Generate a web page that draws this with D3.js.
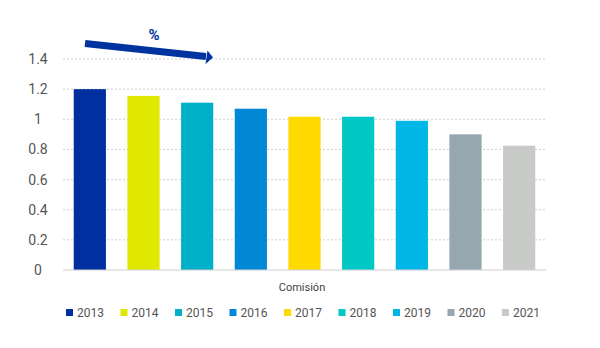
<!DOCTYPE html>
<html lang="es">

<head>
    <meta charset="UTF-8">
    <title>Comisión</title>
    <script src="https://d3js.org/d3.v7.min.js"></script>
    <style>
        body {
            margin: 0;
            background: #fff;
        }

        text {
            font-family: Roboto, sans-serif;
        }

        .grid line {
            stroke: #d0d0d0;
            stroke-dasharray: 2, 2;
        }
    </style>
</head>

<body>
    <script>
        const years = ["2013", "2014", "2015", "2016", "2017", "2018", "2019", "2020", "2021"]
        const values = [1.2, 1.155, 1.11, 1.07, 1.017, 1.017, 0.99, 0.9, 0.825]
        const colors = ["#0030a0", "#e0e800", "#00afc8", "#0088d6", "#ffda00", "#00c8c5", "#00b6e6", "#96a7b0", "#c8cac8"]
        const yTicks = [0, 0.2, 0.4, 0.6, 0.8, 1, 1.2, 1.4]

        const width = 600
        const height = 348

        let svg = d3.select("body").append("svg")
            .attr("width", width)
            .attr("height", height)

        let x = d3.scaleBand()
            .domain(years)
            .range([63, 546])
            .paddingInner(0.4)
            .paddingOuter(0.2)

        let y = d3.scaleLinear()
            .domain([0, 1.4])
            .range([270, 59])

        // dotted gridlines (not at zero)
        svg.append("g").attr("class", "grid")
            .selectAll("line")
            .data(yTicks.filter(d => d > 0))
            .enter()
            .append("line")
            .attr("x1", 63).attr("x2", 546)
            .attr("y1", d => y(d)).attr("y2", d => y(d))

        // y labels, centered
        svg.append("g")
            .selectAll("text")
            .data(yTicks)
            .enter()
            .append("text")
            .attr("x", 38)
            .attr("y", d => y(d))
            .attr("dy", "0.36em")
            .attr("text-anchor", "middle")
            .attr("fill", "#555")
            .style("font-size", "14px")
            .text(d => String(+d.toFixed(1)))

        // bars
        svg.append("g")
            .selectAll("rect")
            .data(values)
            .enter()
            .append("rect")
            .attr("x", (d, i) => x(years[i]))
            .attr("width", x.bandwidth())
            .attr("y", d => y(d))
            .attr("height", d => y(0) - y(d))
            .attr("fill", (d, i) => colors[i])

        // baseline
        svg.append("line")
            .attr("x1", 63).attr("x2", 546)
            .attr("y1", y(0)).attr("y2", y(0))
            .attr("stroke", "#cfcfcf")
            .attr("stroke-width", 1)

        svg.append("text")
            .attr("x", 302)
            .attr("y", 291)
            .attr("text-anchor", "middle")
            .attr("fill", "#444")
            .style("font-size", "11px")
            .text("Comisión")

        // trend arrow + %
        svg.append("line")
            .attr("x1", 85).attr("y1", 43.5)
            .attr("x2", 206).attr("y2", 56.5)
            .attr("stroke", "#0033a0")
            .attr("stroke-width", 7)

        svg.append("path")
            .attr("d", "M213,57.5 L207.5,50.5 L205.5,64 Z")
            .attr("fill", "#0033a0")

        svg.append("text")
            .attr("x", 154)
            .attr("y", 40)
            .attr("text-anchor", "middle")
            .attr("fill", "#0033a0")
            .style("font-size", "15px")
            .style("font-weight", "bold")
            .text("%")

        // legend
        let lx = d3.scalePoint().domain(years).range([66, 502])
        let leg = svg.append("g")
            .selectAll("g")
            .data(years)
            .enter()
            .append("g")
            .attr("transform", d => `translate(${lx(d)},313)`)

        leg.append("rect")
            .attr("x", 0).attr("y", -4)
            .attr("width", 7).attr("height", 7)
            .attr("fill", (d, i) => colors[i])

        leg.append("text")
            .attr("x", 11)
            .attr("y", 0)
            .attr("dy", "0.36em")
            .attr("fill", "#555")
            .style("font-size", "12px")
            .text(d => d)
    </script>
</body>

</html>
